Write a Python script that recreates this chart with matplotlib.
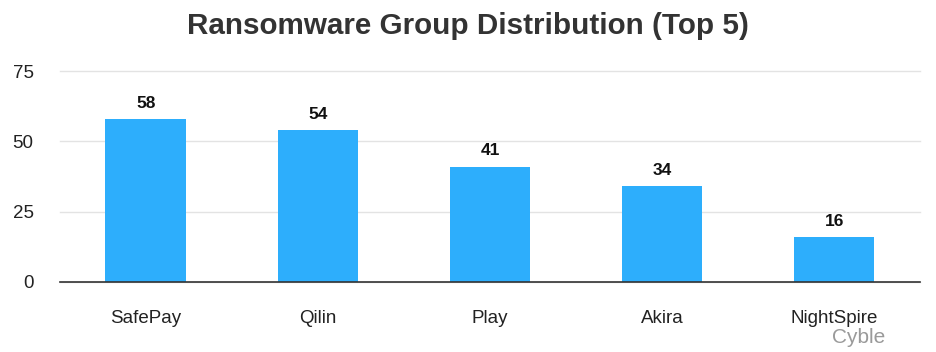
import matplotlib.pyplot as plt

groups = ["SafePay", "Qilin", "Play", "Akira", "NightSpire"]
counts = [58, 54, 41, 34, 16]
yticks = [0, 25, 50, 75]

plt.rcParams['font.family'] = ['Liberation Sans', 'DejaVu Sans']

fig = plt.figure(figsize=(9.36, 3.52), dpi=100)
ax = fig.add_axes([0.064, 0.199, 0.919, 0.599])

bars = ax.bar(range(len(groups)), counts, width=0.47, color='#2DAEFC', zorder=3)
for b, v in zip(bars, counts):
    ax.annotate(str(v), (b.get_x() + b.get_width() / 2, v), xytext=(0, 6),
                textcoords='offset points', ha='center', va='bottom',
                fontsize=12.5, fontweight='bold', color='#111111')

ax.set_xlim(-0.5, len(groups) - 0.5)
ax.set_ylim(0, 75)
ax.set_yticks(yticks)
ax.set_xticks(range(len(groups)))
ax.set_xticklabels(groups)
ax.grid(axis='y', color='#e3e3e3', linewidth=1, zorder=0)
for line in ax.get_ygridlines():
    line.set_clip_on(False)
ax.spines[['left', 'right', 'top']].set_visible(False)
ax.spines['bottom'].set_color('#333333')
ax.spines['bottom'].set_linewidth(1.2)
ax.spines['bottom'].set_zorder(4)
ax.tick_params(axis='both', length=0, labelsize=13.5, colors='#222222')
ax.tick_params(axis='x', pad=20)
ax.tick_params(axis='y', pad=19)

fig.suptitle("Ransomware Group Distribution (Top 5)", x=0.5, y=0.965,
             fontsize=21.3, fontweight='bold', color='#333333')
fig.text(0.946, 0.04, "Cyble", ha='right', va='center', fontsize=15, color='#9a9a9a')

fig.savefig("out.png", dpi=100)
